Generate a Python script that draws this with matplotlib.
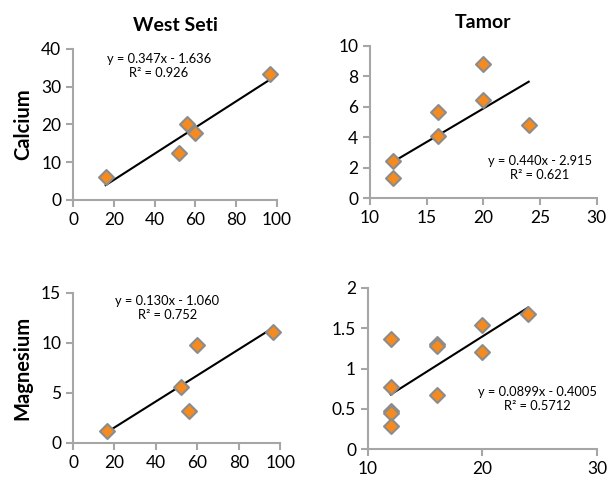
import matplotlib
matplotlib.use("Agg")
import matplotlib.pyplot as plt
import numpy as np

plt.rcParams['font.family'] = ['Lato', 'DejaVu Sans']

# West Seti data
ws_ca_x = [16, 52, 56, 60, 96.5]
ws_ca_y = [6.0, 12.3, 20.0, 17.8, 33.2]
ws_mg_x = [16.5, 52, 56, 60, 96.5]
ws_mg_y = [1.2, 5.6, 3.2, 9.8, 11.1]

# Tamor data
ta_ca_x = [12, 12, 16, 16, 20, 20, 24]
ta_ca_y = [2.45, 1.3, 5.65, 4.1, 8.8, 6.45, 4.8]
ta_mg_x = [12, 12, 12, 12, 12, 16, 16, 16, 20, 20, 24]
ta_mg_y = [1.37, 0.77, 0.47, 0.45, 0.29, 1.31, 1.28, 0.67, 1.54, 1.2, 1.68]

# Trendline coefficients (slope, intercept) and labels
ws_ca_fit = (0.347, -1.636)
ws_mg_fit = (0.130, -1.060)
ta_ca_fit = (0.440, -2.915)
ta_mg_fit = (0.0899, -0.4005)
ws_ca_eq = "y = 0.347x - 1.636\nR² = 0.926"
ws_mg_eq = "y = 0.130x - 1.060\nR² = 0.752"
ta_ca_eq = "y = 0.440x - 2.915\nR² = 0.621"
ta_mg_eq = "y = 0.0899x - 0.4005\nR² = 0.5712"

titles = ["West Seti", "Tamor"]
ylabels = ["Calcium", "Magnesium"]

fig = plt.figure(figsize=(6.11, 4.83), dpi=100)
positions = [
    [0.1195, 0.586, 0.334, 0.313],
    [0.6056, 0.590, 0.371, 0.315],
    [0.1195, 0.083, 0.339, 0.311],
    [0.602, 0.070, 0.375, 0.334],
]
panels = [
    (ws_ca_x, ws_ca_y, ws_ca_fit, ws_ca_eq, (0, 100), [0, 20, 40, 60, 80, 100], (0, 40), [0, 10, 20, 30, 40], (0.42, 0.975)),
    (ta_ca_x, ta_ca_y, ta_ca_fit, ta_ca_eq, (10, 30), [10, 15, 20, 25, 30], (0, 10), [0, 2, 4, 6, 8, 10], (0.75, 0.285)),
    (ws_mg_x, ws_mg_y, ws_mg_fit, ws_mg_eq, (0, 100), [0, 20, 40, 60, 80, 100], (0, 15), [0, 5, 10, 15], (0.455, 0.985)),
    (ta_mg_x, ta_mg_y, ta_mg_fit, ta_mg_eq, (10, 30), [10, 20, 30], (0, 2), [0, 0.5, 1, 1.5, 2], (0.74, 0.39)),
]
ytl = [None, None, None, ["0", "0.5", "1", "1.5", "2"]]

gray = "#A6A6A6"
for i, (pos, p) in enumerate(zip(positions, panels)):
    x, y, fit, eq, xl, xt, yl, yt, tp = p
    ax = fig.add_axes(pos)
    xs = np.array([min(x), max(x)])
    ax.plot(xs, fit[0] * xs + fit[1], color="black", lw=1.5, zorder=2)
    ax.scatter(x, y, marker="D", s=58, facecolor="#F58A1F", edgecolor="#8C8C8C",
               linewidth=1.5, zorder=3, clip_on=False)
    ax.set_xlim(*xl)
    ax.set_ylim(*yl)
    ax.set_xticks(xt)
    ax.set_yticks(yt)
    if ytl[i]:
        ax.set_yticklabels(ytl[i])
    for s in ["top", "right"]:
        ax.spines[s].set_visible(False)
    for s in ["left", "bottom"]:
        ax.spines[s].set_color(gray)
        ax.spines[s].set_linewidth(1.5)
    ax.tick_params(colors=gray, labelcolor="black", labelsize=12.5, length=5, width=1.5, direction="out")
    ax.text(tp[0], tp[1], eq, transform=ax.transAxes, ha="center", va="top",
            fontsize=9.3, linespacing=1.2)
    if i < 2:
        ax.set_title(titles[i], fontsize=14, fontweight="bold", pad=13)
    if i % 2 == 0:
        ax.set_ylabel(ylabels[i // 2], fontsize=14.5, fontweight="bold", labelpad=6)

fig.savefig("out.png", dpi=100)
